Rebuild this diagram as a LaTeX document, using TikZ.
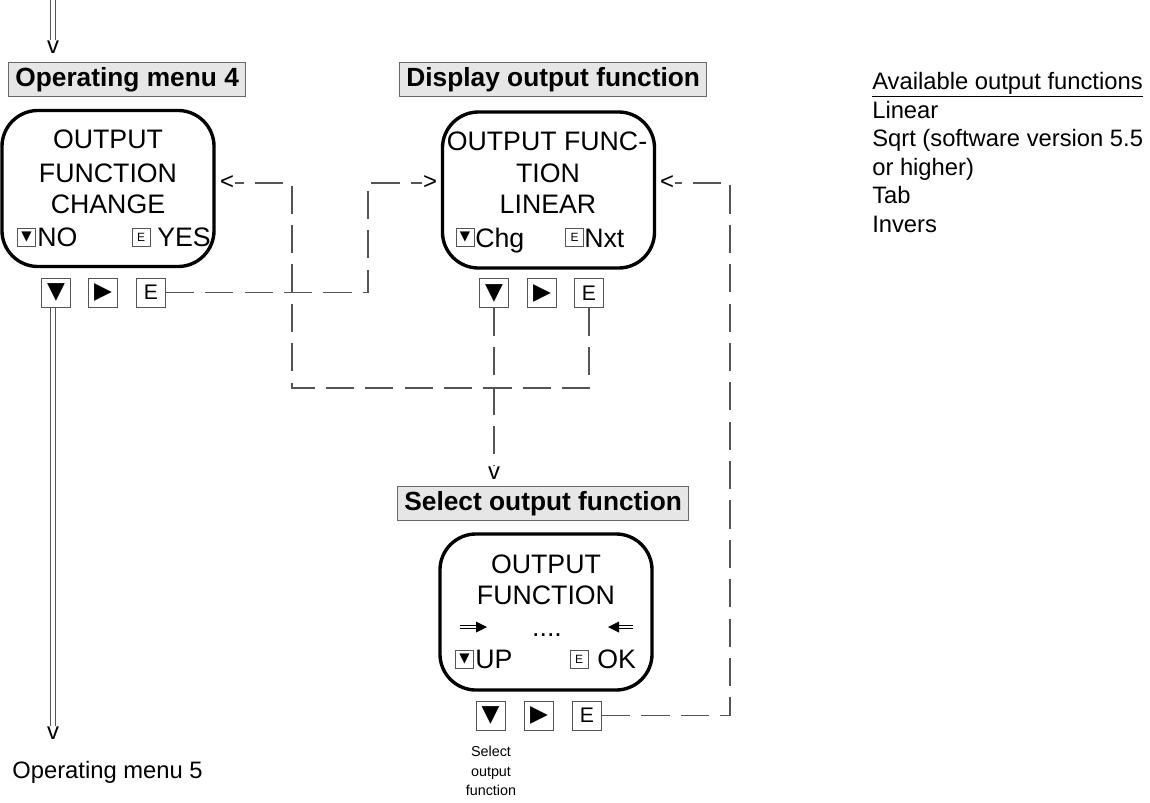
\documentclass[tikz,border=0pt]{standalone}
\usepackage{fontspec}
\setmainfont{Liberation Sans}
\newfontfamily\symfont{DejaVu Sans}
\usetikzlibrary{positioning}

\definecolor{linegray}{RGB}{85,85,85}
\definecolor{headfill}{RGB}{230,230,230}
\definecolor{headedge}{RGB}{105,105,105}

\newcommand{\keydown}{{\symfont\fontsize{16.5}{16.5}\selectfont ▼}}
\newcommand{\keyright}{{\symfont\fontsize{16.5}{16.5}\selectfont ▶}}
\newcommand{\keyE}{{\fontsize{15}{15}\selectfont E}}
\newcommand{\smalldown}{{\symfont\fontsize{9.5}{9.5}\selectfont ▼}}
\newcommand{\smallE}{{\fontsize{8.5}{8.5}\selectfont E}}

\tikzset{
  display/.style={draw, line width=2.4pt, rounded corners=0.9cm, minimum width=5.3cm, minimum height=3.9cm},
  heading/.style={draw=headedge, fill=headfill, line width=0.8pt, anchor=west, inner xsep=0.17cm,
    minimum height=0.8cm, text height=13.5pt, text depth=3.9pt, font=\fontsize{18.7}{22}\selectfont\bfseries},
  screen/.style={anchor=base, inner sep=0pt, font=\fontsize{19}{22}\selectfont},
  keybox/.style={draw=linegray, line width=0.7pt, minimum size=0.725cm, inner sep=0pt},
  icon/.style={draw=linegray, line width=0.5pt, minimum size=0.45cm, inner sep=0pt},
  flow/.style={draw=linegray, line width=0.8pt, dash pattern=on 20pt off 8pt},
  dbl/.style={draw=linegray, line width=0.8pt, double, double distance=3.2pt},
  chevron/.style={inner sep=0.5pt, font=\fontsize{17}{18}\selectfont},
  note/.style={anchor=base west, inner sep=0pt, font=\fontsize{16.9}{20}\selectfont},
}

\begin{document}
\begin{tikzpicture}[x=0.025cm, y=-0.025cm]
        \useasboundingbox (0,0) rectangle (1150,802);

        % headings
        \node[heading] (menu4) at (8,79.5) {Operating menu 4};
        \node[heading] (showfn) at (399,79.5) {Display output function};
        \node[heading] (pickfn) at (397,503.5) {Select output function};

        % displays
        \node[display] (disp1) at (108,188.5) {};
        \node[screen] (l1a) at (108,148) {OUTPUT};
        \node[screen] (l1b) at (108,182) {FUNCTION};
        \node[screen] (l1c) at (108,213) {CHANGE};
        \node[icon] (i1a) at (26.5,237) {\smalldown};
        \node[screen, anchor=base west] (no1) at (37,246) {NO};
        \node[icon] (i1b) at (141,237) {\smallE};
        \node[screen, anchor=base west] (yes1) at (157,246) {YES};

        \node[display] (disp2) at (548.5,190) {};
        \node[screen] (l2a) at (547,150) {OUTPUT FUNC-};
        \node[screen] (l2b) at (548,182) {TION};
        \node[screen] (l2c) at (548,213) {LINEAR};
        \node[icon] (i2a) at (465,237) {\smalldown};
        \node[screen, anchor=base west] (chg2) at (475,247) {Chg};
        \node[icon] (i2b) at (574.5,237) {\smallE};
        \node[screen, anchor=base west] (nxt2) at (584,247) {Nxt};

        \node[display] (disp3) at (546,612) {};
        \node[screen] (l3a) at (546,573) {OUTPUT};
        \node[screen] (l3b) at (546,604) {FUNCTION};
        \node[screen] (dots3) at (547,636) {....};
        \node[icon] (i3a) at (464.5,659) {\smalldown};
        \node[screen, anchor=base west] (up3) at (475,668) {UP};
        \node[icon] (i3b) at (579,659) {\smallE};
        \node[screen, anchor=base west] (ok3) at (597,668) {OK};
        \draw[line width=0.5pt, double, double distance=1.6pt] (460,627) -- (477,627);
        \fill (476,621.5) -- (487,627) -- (476,632.5) -- cycle;
        \draw[line width=0.5pt, double, double distance=1.6pt] (617,627) -- (633,627);
        \fill (619,621.5) -- (608,627) -- (619,632.5) -- cycle;

        % keys
        \node[keybox] (keydn1) at (56,292.5) {\keydown};
        \node[keybox] (keyrt1) at (103,292.5) {\keyright};
        \node[keybox] (enter1) at (151,292.5) {\keyE};
        \node[keybox] (keydn2) at (494,293) {\keydown};
        \node[keybox] (keyrt2) at (542,293) {\keyright};
        \node[keybox] (enter2) at (589,293) {\keyE};
        \node[keybox] (keydn3) at (490.5,715.5) {\keydown};
        \node[keybox] (keyrt3) at (539,715.5) {\keyright};
        \node[keybox] (enter3) at (587,715.5) {\keyE};
        \node[align=center, anchor=north, inner sep=0pt, font=\fontsize{10.2}{13.9}\selectfont] (pickcap) at (491,746) {Select\\output\\function};

        % arrow heads
        \node[chevron] (intop) at (53,47) {v};
        \node[chevron] (toshow) at (430,183) {>};
        \node[chevron] (tochg) at (227,183) {<};
        \node[chevron] (backshow) at (667,183) {<};
        \node[chevron] (topick) at (494,473) {v};
        \node[chevron] (tomenu5) at (53,733) {v};
        \node[note, anchor=base] (menu5) at (107.5,778) {Operating menu 5};

        % connectors
        \coordinate (entry) at (53,0);
        \draw[dbl] (entry) -- (intop.north);
        \draw[dbl] (keydn1.south -| tomenu5.north) -- (tomenu5.north);

        \coordinate (bendm) at (368,183);
        \draw[flow] (enter1.east) -- (enter1.east -| bendm) |- (toshow.west);
        \coordinate (loopl) at (292,388);
        \draw[flow] (enter2.south) |- (loopl) |- (tochg.east);
        \draw[flow] (keydn2.south) -- (topick.north);
        \coordinate (loopr) at (730,183);
        \draw[flow] (enter3.east) -| (loopr) -- (backshow.east);

        % list of functions
        \node[note] (avail) at (872,89.5) {\underline{Available output functions}};
        \foreach \txt [count=\i] in {Linear, Sqrt (software version 5.5, or higher), Tab, Invers}
            \node[note] (fn\i) at (872,89.5+28.5*\i) {\txt};

\end{tikzpicture}
\end{document}
